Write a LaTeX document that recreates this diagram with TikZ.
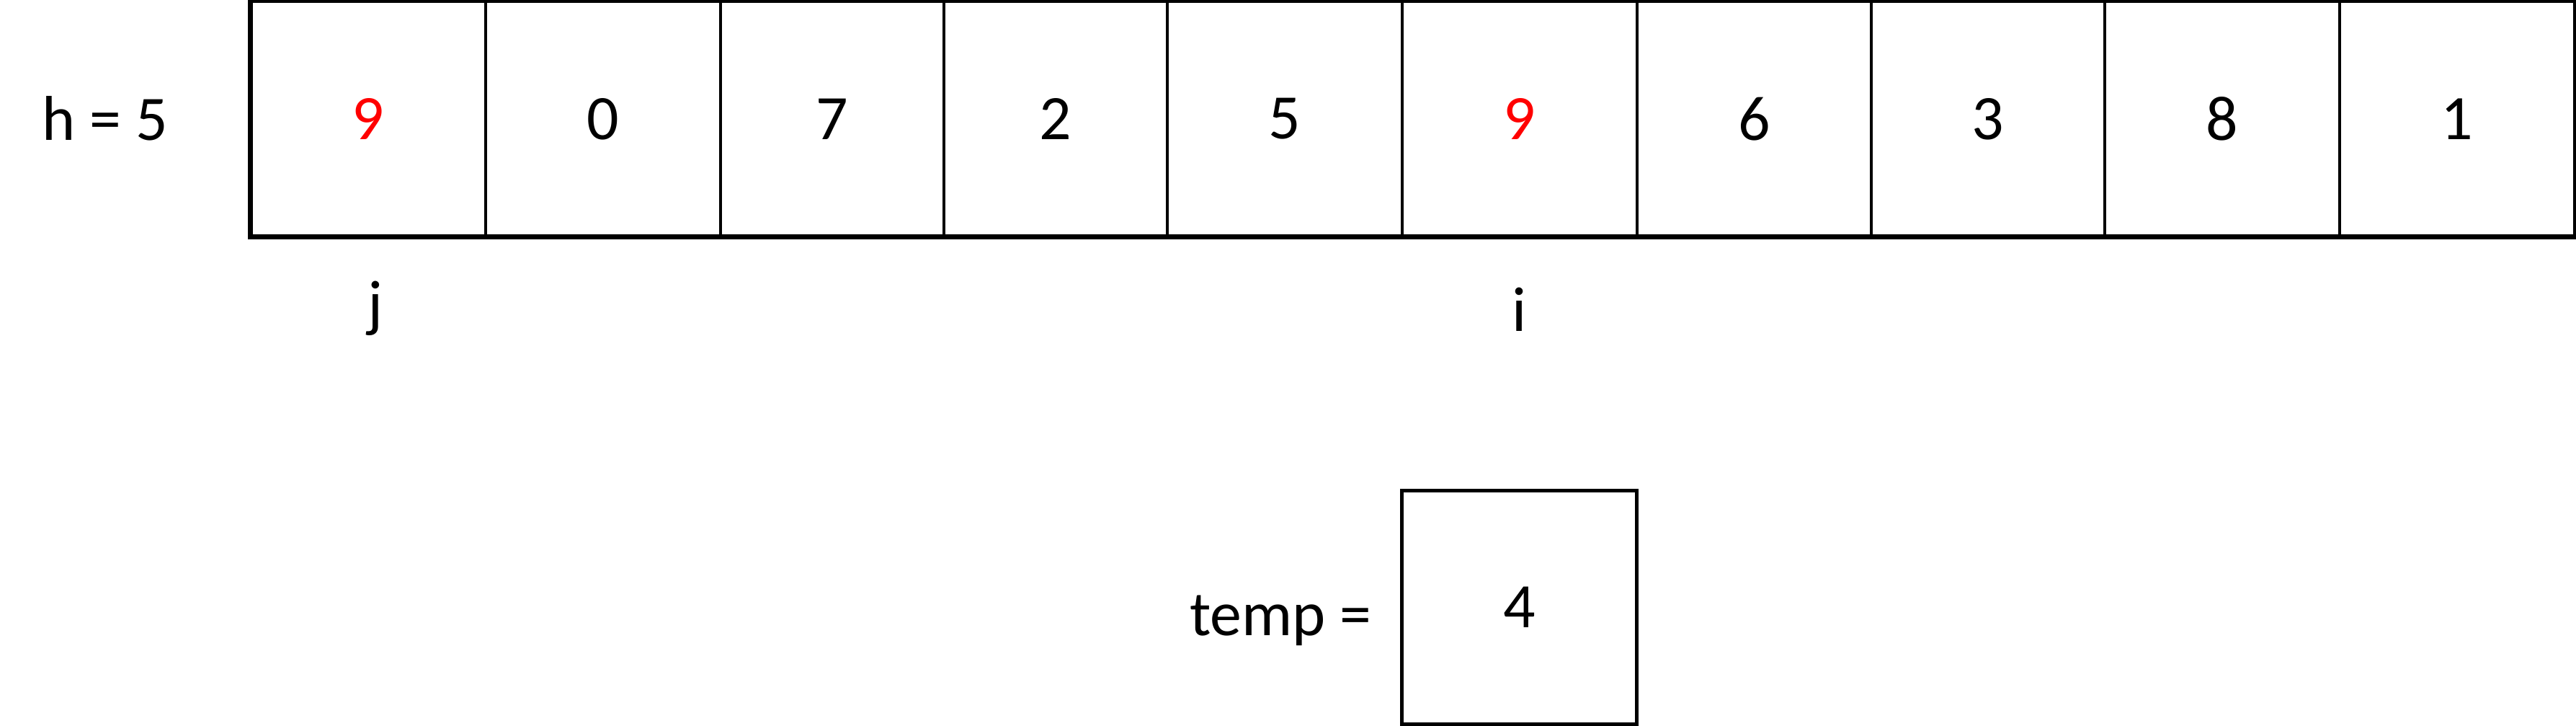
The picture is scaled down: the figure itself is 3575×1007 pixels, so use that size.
\documentclass[tikz,border=0pt]{standalone}
\usepackage{fontspec}
\setmainfont{Carlito}
\usepackage{tikz}

\begin{document}
\begin{tikzpicture}[x=0.1mm, y=-0.1mm,
    every node/.style={font=\fontsize{25}{30}\selectfont},
    cell/.style={draw, line width=0.4mm, minimum height=32.5mm, inner sep=0pt},
    lbl/.style={anchor=base}]
  \useasboundingbox (0,0) rectangle (3575,1007);

  \foreach \n/\a/\b/\v/\c in {1/348.5/674/9/red, 2/674/1000/0/black, 3/1000/1310/7/black,
      4/1310/1620/2/black, 5/1620/1946/5/black, 6/1946/2272/9/red, 7/2272/2597/6/black,
      8/2597/2921/3/black, 9/2921/3247/8/black, 10/3247/3572.5/1/black}
    \node[cell, text=\c, minimum width={(\b-\a)*0.1mm}] (c\n) at ({(\a+\b)/2},165) {\v};
  \draw[line width=0.5mm] (c1.north west) rectangle (c10.south east);

  \node[lbl] (h) at (146,195) {h = 5};
  \node[lbl] (j) at (521,451) {j};
  \node[lbl] (i) at (2109,460) {i};

  \node[cell, line width=0.5mm, minimum width=32.6mm, minimum height=32.4mm] (temp) at (2108.5,842.5) {4};
  \node[lbl, anchor=base east] (tlabel) at (1916,881) {temp =};
\end{tikzpicture}
\end{document}
